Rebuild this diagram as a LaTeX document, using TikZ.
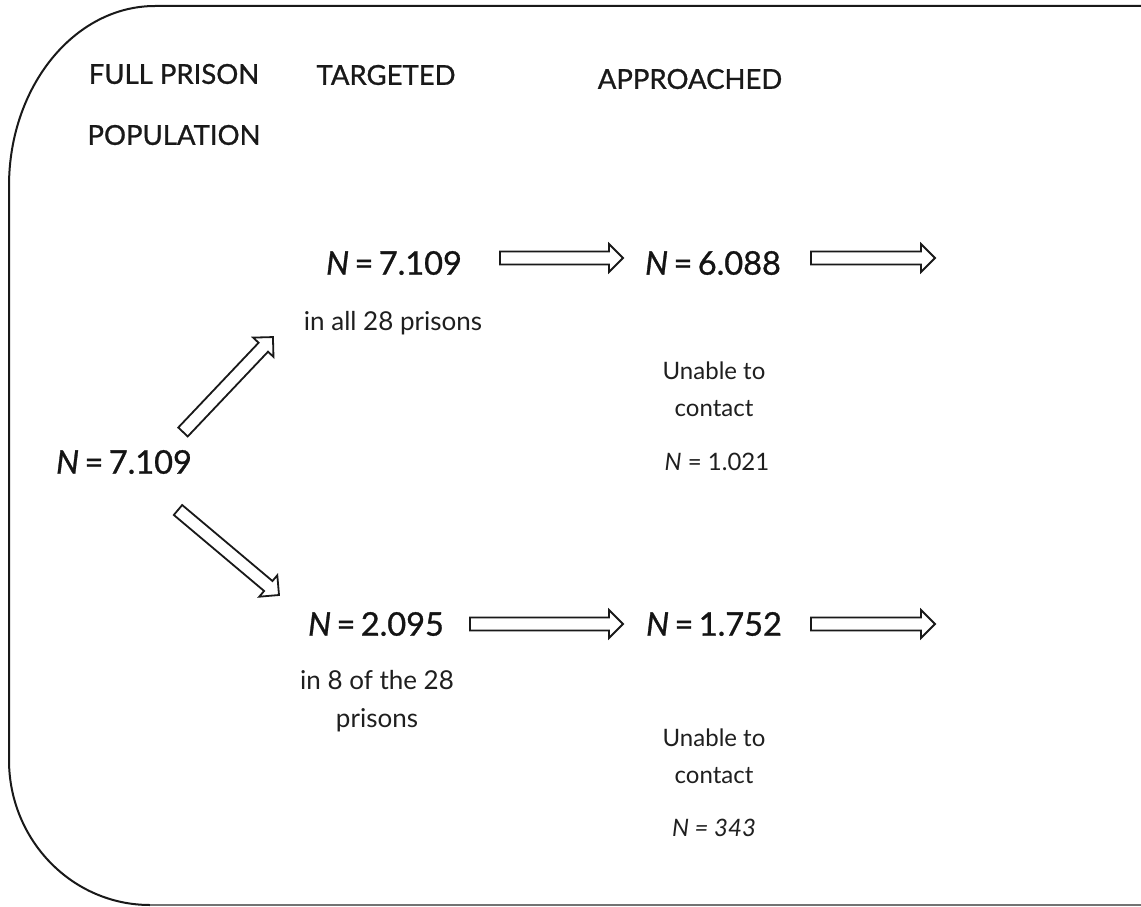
\documentclass[tikz,border=0pt]{standalone}
\usepackage{fontspec}
\setmainfont{Lato}
\newfontfamily\medfont{Lato}[FakeBold=0.9]
\usetikzlibrary{calc}
\newcommand{\blkarrow}[2]{%
  \draw[blk] let \p1=(#1), \p2=(#2), \n1={atan2(\y2-\y1,\x2-\x1)}, \n2={veclen(\x2-\x1,\y2-\y1)} in
    [shift={(\p1)}, rotate=\n1]
    (0pt,-6.5pt) -- (\n2-14pt,-6.5pt) -- (\n2-14pt,-14pt) -- (\n2,0pt) -- (\n2-14pt,14pt) -- (\n2-14pt,6.5pt) -- (0pt,6.5pt) -- cycle;}
\begin{document}
\begin{tikzpicture}[x=1pt,y=-1pt,
  blk/.style={draw=black!90, line width=1.8pt, fill=white, line join=miter},
  head/.style={font=\medfont\fontsize{27.5}{30}\selectfont, text=black!90, inner sep=0pt},
  big/.style={font=\medfont\fontsize{32.5}{34}\selectfont, text=black!92, inner sep=0pt},
  small/.style={font=\fontsize{26}{30}\selectfont, text=black!88, inner sep=0pt},
  tiny/.style={font=\fontsize{24}{28}\selectfont, text=black!88, inner sep=0pt}]
\useasboundingbox (0,0) rectangle (1141,907);
\fill[white] (0,0) rectangle (1141,907);
% frame
\draw[line width=2pt, black!90] (1141,6) -- (155,6) arc[start angle=270, end angle=180, x radius=146, y radius=180]
  -- (9,760) arc[start angle=180, end angle=90, x radius=141, y radius=145];
\draw[line width=1.5pt, black!55] (150,905) -- (1141,905);
% headings
\node[head] (h1) at (174,74) {FULL PRISON};
\node[head] (h2) at (174,135) {POPULATION};
\node[head] (h3) at (386,75) {TARGETED};
\node[head] (h4) at (690,79) {APPROACHED};
% numbers
\node[big] (n0) at (124,462) {\itshape N\upshape\,=\,7.109};
\node[big] (n1) at (394,263) {\itshape N\upshape\,=\,7.109};
\node[small] (s1) at (393,323) {in all 28 prisons};
\node[big] (n2) at (713,263) {\itshape N\upshape\,=\,6.088};
\node[tiny] (u1) at (714,371) {Unable to};
\node[tiny] (c1) at (714,409) {contact};
\node[tiny] (m1) at (717,462) {\itshape N\upshape\ = 1.021};
\node[big] (n3) at (376,624) {\itshape N\upshape\,=\,2.095};
\node[small] (s2) at (377,680) {in 8 of the 28};
\node[small] (s3) at (377,720) {prisons};
\node[big] (n4) at (714,624) {\itshape N\upshape\,=\,1.752};
\node[tiny] (u2) at (714,738) {Unable to};
\node[tiny] (c2) at (714,776) {contact};
\node[tiny] (m2) at (714,828) {\itshape N = 343};
% arrow end points
\coordinate (a1s) at (183,432); \coordinate (a1e) at (273,337);
\coordinate (a2s) at (178,510); \coordinate (a2e) at (279,595);
\coordinate (a3s) at (500,258); \coordinate (a3e) at (623,258);
\coordinate (a4s) at (811,258); \coordinate (a4e) at (935,258);
\coordinate (a5s) at (470,624); \coordinate (a5e) at (623,624);
\coordinate (a6s) at (811,624); \coordinate (a6e) at (935,624);
\blkarrow{a1s}{a1e}
\blkarrow{a2s}{a2e}
\blkarrow{a3s}{a3e}
\blkarrow{a4s}{a4e}
\blkarrow{a5s}{a5e}
\blkarrow{a6s}{a6e}
\end{tikzpicture}
\end{document}
